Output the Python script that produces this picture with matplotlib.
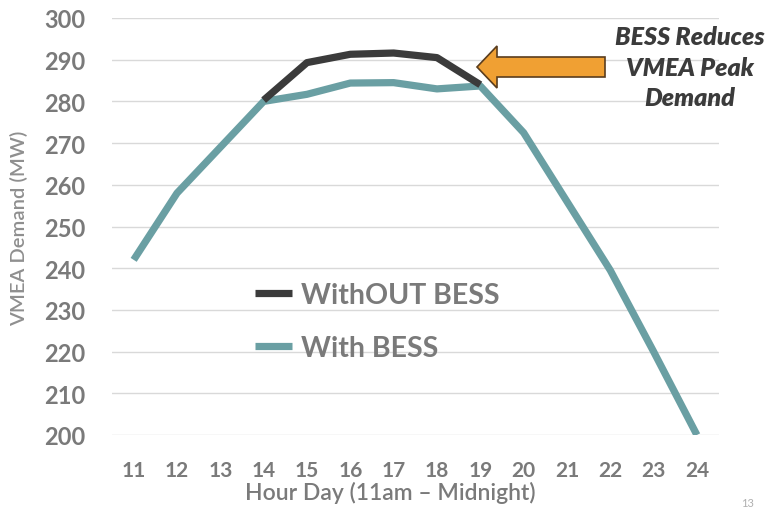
import matplotlib.pyplot as plt
from matplotlib.patches import Polygon

hours = [11, 12, 13, 14, 15, 16, 17, 18, 19, 20, 21, 22, 23, 24]
with_bess = [242, 258, 269, 280, 281.7, 284.4, 284.5, 283, 283.7, 272.5, 256, 239.5, 220, 200]
# the no-BESS curve only differs between 14h and 19h
without_hours = [14, 15, 16, 17, 18, 19]
without_bess = [280.3, 289.3, 291.3, 291.6, 290.5, 284]

y_ticks = [200, 210, 220, 230, 240, 250, 260, 270, 280, 290, 300]

W, H = 783, 510


def px(x, y):
    # pixel position -> figure fraction
    return (x / W, 1 - y / H)


def plot_demand():
    fig = plt.figure(figsize=(W / 100, H / 100), dpi=100)
    l, b = px(112, 436)
    r, t = px(718.6, 19)
    ax = fig.add_axes([l, b, r - l, t - b])

    ax.plot(hours, with_bess, color='#6a9fa3', lw=5.2, solid_capstyle='butt',
            solid_joinstyle='round', label='With BESS', zorder=3)
    ax.plot(without_hours, without_bess, color='#3b3b3b', lw=5.2, solid_capstyle='butt',
            solid_joinstyle='round', label='WithOUT BESS', zorder=4)

    ax.set_xlim(10.5, 24.5)
    ax.set_ylim(200, 300)
    ax.set_xticks(hours)
    ax.set_yticks(y_ticks)
    for s in ax.spines.values():
        s.set_visible(False)
    ax.grid(axis='y', color='#d9d9d9', lw=1)
    ax.set_axisbelow(True)
    ax.tick_params(length=0)
    ax.tick_params(axis='y', pad=19, labelsize=17, labelcolor='#7a7a7a')
    ax.tick_params(axis='x', pad=18, labelsize=15, labelcolor='#7a7a7a')
    for lab in ax.get_yticklabels():
        lab.set_fontweight('bold')
    for lab in ax.get_xticklabels():
        lab.set_fontweight('bold')

    handles, labels = ax.get_legend_handles_labels()
    ax.legend(handles[::-1], labels[::-1], loc='upper left',
              bbox_to_anchor=px(255, 283), bbox_transform=fig.transFigure,
              frameon=False, borderpad=0, borderaxespad=0, handlelength=1.3,
              handletextpad=0.3, labelspacing=0.95,
              prop={'weight': 'bold', 'size': 20.5}, labelcolor='#7a7a7a')

    fig.text(*px(390, 493), 'Hour Day (11am \u2013 Midnight)', ha='center', va='center',
             fontsize=16.5, color='#7a7a7a', fontweight='semibold')
    fig.text(*px(19, 228), 'VMEA Demand (MW)', rotation=90, ha='center', va='center',
             fontsize=14.5, color='#8f8f8f', fontweight='semibold')

    fig.text(*px(690, 68), 'BESS Reduces\nVMEA Peak\nDemand', ha='center', va='center',
             fontsize=18, fontweight='heavy', style='italic', color='#3b3b3b',
             linespacing=1.4)

    arrow = [(477, 68), (497, 47), (497, 58), (605, 58), (605, 78), (497, 78), (497, 89)]
    fig.patches.append(Polygon([px(x, y) for x, y in arrow], closed=True,
                               transform=fig.transFigure, facecolor='#f0a033',
                               edgecolor='#5a3d1e', lw=1.2))

    fig.text(*px(748, 509), '13', ha='center', va='bottom', fontsize=8, color='#b0b0b0')

    fig.savefig('out.png', dpi=100)


if __name__ == '__main__':
    plt.rcParams['font.family'] = ['Lato', 'DejaVu Sans']
    plot_demand()
